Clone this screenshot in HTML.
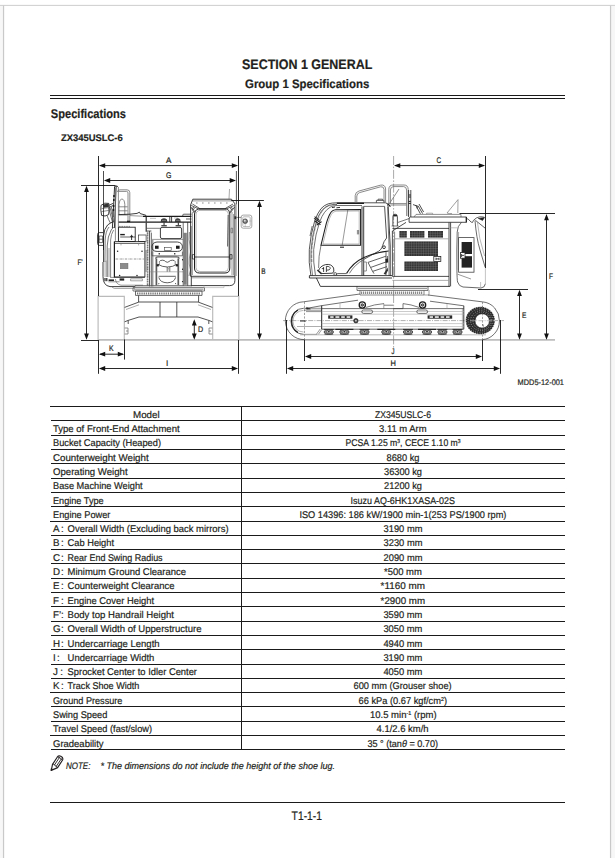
<!DOCTYPE html>
<html lang="en"><head><meta charset="utf-8"><title>SECTION 1 GENERAL - Group 1 Specifications</title>
<style>
html,body{margin:0;padding:0;background:#fff;}
svg{display:block;font-family:'Liberation Sans', 'DejaVu Sans', sans-serif;}
text{white-space:pre;text-rendering:geometricPrecision;}
</style></head><body>
<svg width="615" height="858" viewBox="0 0 615 858" style="font-family:'Liberation Sans', 'DejaVu Sans', sans-serif">
<rect x="0" y="0" width="615" height="858" fill="#ffffff"/>
<rect x="0" y="6" width="3" height="852" fill="#f7f7f7"/>
<rect x="611" y="6" width="4" height="852" fill="#f7f7f7"/>
<rect x="0" y="4.85" width="615" height="1.15" fill="#d3d3d3"/>
<rect x="2.95" y="5.5" width="1.2" height="853" fill="#c9c9c9"/>
<rect x="609.95" y="5.5" width="1.2" height="853" fill="#c9c9c9"/>
<text x="242.00" y="68.90" font-size="13.8" font-weight="bold" font-style="normal" fill="#231f20" stroke="#231f20" stroke-width="0.2" textLength="130.30" lengthAdjust="spacingAndGlyphs">SECTION 1 GENERAL</text>
<text x="245.00" y="87.80" font-size="12.3" font-weight="bold" font-style="normal" fill="#231f20" stroke="#231f20" stroke-width="0.2" textLength="124.30" lengthAdjust="spacingAndGlyphs">Group 1 Specifications</text>
<line x1="50" y1="95.5" x2="565" y2="95.5" stroke="#1a1a1a" stroke-width="1.0"/>
<line x1="50" y1="98.5" x2="565" y2="98.5" stroke="#1a1a1a" stroke-width="1.0"/>
<text x="50.80" y="118.10" font-size="12.6" font-weight="bold" font-style="normal" fill="#231f20" stroke="#231f20" stroke-width="0.2" textLength="75.20" lengthAdjust="spacingAndGlyphs">Specifications</text>
<text x="60.90" y="140.60" font-size="9.6" font-weight="bold" font-style="normal" fill="#231f20" stroke="#231f20" stroke-width="0.2" textLength="61.80" lengthAdjust="spacingAndGlyphs">ZX345USLC-6</text>
<g id="front" fill="none" stroke-linecap="butt">
<!-- ground + tracks (gray) -->
<g stroke="#bababa" stroke-width="1.15">
<line x1="98" y1="339.9" x2="555" y2="339.9" stroke-width="1.6" stroke="#bdbdbd"/>
<path d="M98.1,296.4 V340 M97.6,296.4 H124.3 V340"/>
<path d="M238.8,296.4 V340 M239.4,296.4 H212.7 V340"/>
</g>
<!-- undercarriage -->
<g stroke="#2a2a2a" stroke-width="0.8">
<path d="M139,302 H198 M139,317 H198 M160,302 V317 M176.8,302 V317"/>
<path d="M139,302 L124.6,307.4 M139,317 L128.2,320.4 L124.6,321.8 M128.2,320.4 V324"/>
<path d="M198,302 L212.4,307.4 M198,317 L208.8,320.4 L212.4,321.8 M208.8,320.4 V324"/>
<path d="M124.6,328 H128 V334 H124.6 M126,331 H128" stroke="#777"/>
<path d="M212.4,328 H209 V334 H212.4 M211,331 H209" stroke="#777"/>
<path d="M126,309.5 L139,304.8 M211,309.5 L198,304.8" stroke="#777" stroke-width="0.6"/>
<!-- slewing -->
<path d="M138.6,295.4 V302 M198.6,295.4 V302"/>
<path d="M135.5,291 H202 V295.4 H135.5 Z" stroke="#444"/>
<path d="M137,293.4 H200.5" stroke-dasharray="1.3 0.9" stroke-width="2" stroke="#777"/>
<path d="M133,287.6 H204.5 V291 H133 Z" stroke="#555"/>
<path d="M134,289.3 H203.5" stroke="#b0b0b0" stroke-width="1.6"/>
</g>
<!-- light gray fills on left shell -->
<g fill="#cfcfcf" stroke="none">
<path d="M104.3,262 Q105.4,260.4 107,260.6 V277 H104.3 Z"/>
<path d="M107.8,248 H110.2 V277 H107.8 Z"/>
</g>
<!-- upper body: left shell -->
<g stroke="#1c1c1c" stroke-width="0.85">
<path d="M103,262 V276.6 Q103,285.6 110,286.6 H135"/>
<path d="M103.5,250 L103.6,236 Q104,228.6 107.6,225 Q110.6,222.4 114,221.6" />
<path d="M104.9,262 L105.2,240 Q105.6,231 109,227" stroke="#444" stroke-width="0.7"/>
<path d="M107.2,277 V246 Q107.6,236 111.2,230 L113.6,227" stroke="#333" stroke-width="0.7"/>
<path d="M110.6,277 V240 Q111,234 113.6,230" stroke="#555" stroke-width="0.7"/>
<path d="M114.4,288.4 H135 M114.4,288.4 Q112.6,287.8 111.6,286.6" stroke="#666" stroke-width="0.6"/>
<!-- side lamp -->
<path d="M103,232.6 H99.4 Q97.6,232.6 97.6,234.6 V243.4 Q97.6,245.4 99.4,245.4 H103" />
<path d="M99.2,236 H102.6 V242.6 H99.2 Z M99.2,239.2 H102.6" stroke="#333" stroke-width="0.7"/>
<!-- dark handrail post (slanted) -->
<path d="M114.6,186.4 L112.4,228 M116.2,186 L114.4,228" stroke-width="0.9"/>
<path d="M113.2,196 L114.8,196 M113,200 L114.6,200 M112.8,206 L114.4,206 M112.6,210 L114.2,210" stroke-width="2"/>
<path d="M114.2,187.4 Q115.8,184.6 118,186.6" />
</g>
<!-- gray post + loop handrail -->
<g stroke="#6e6e6e" stroke-width="0.8">
<path d="M115.4,188 V240.8 M118.4,187 V240.8"/>
<path d="M117.4,192 Q117.6,189.8 120,189.8 H127 Q129.8,189.8 129.8,192.6 V221"/>
<path d="M118.4,191.4 H126.6 Q128,191.4 128,193 V221"/>
<path d="M119,215 V204.4 Q119.4,199 121.8,199 Q124.4,199 124.8,204.4 V215"/>
<path d="M118.4,206.8 H127.6 M118.4,210.8 H127.6 M118.4,215 H127.6"/>
</g>
<g stroke="#1c1c1c" stroke-width="0.85">
<path d="M127,221.4 H130.2" stroke-width="1.4"/>
<!-- left mirror -->
<path d="M101,205.4 Q100.4,210 101.6,215.4 Q105,217 108.6,214.6 Q109.8,209 108.8,203.4 Q104.6,202 101,205.4 Z"/>
<path d="M103,204.4 L108.6,203.6 L108.8,207 L104,207.8 Z" fill="#333" stroke="none"/>
<path d="M101.6,208.6 L108.8,207.6 M101.4,211.6 L108.8,210.4" stroke="#444" stroke-width="0.6"/>
<path d="M108.8,205.4 L113,203.4 M108.8,207.4 L113,205.6" stroke-width="0.8"/>
<!-- hoses -->
<path d="M108.6,208 Q110.6,215 112.4,222 M110,207.4 Q112,215 113.6,221.6 M107,215.4 Q108.6,220 110.6,223.4 M111.4,207 Q112.6,213 113.4,217" stroke="#333" stroke-width="0.7"/>
<!-- deck left -->
<path d="M118.6,214.6 L130,214.2 L137,213.4 L139.4,212.2 L140.2,213.6 L145.8,215.2 V216.4"/>
<path d="M130,215.6 L145.8,216.4" stroke="#555" stroke-width="0.6"/>
<path d="M118.6,222.1 H145.8" stroke-width="1.3"/>
<path d="M119,226.4 H130" stroke-dasharray="1.6 0.8" stroke="#555" stroke-width="0.6"/>
<!-- top deck boxes -->
<path d="M143,216.4 H191.4" stroke-width="1.2"/>
<path d="M146.6,222.1 H191.4" stroke-width="1.2"/>
<path d="M146.2,216.4 V231.8" stroke-width="1.1"/>
<path d="M169.8,216.4 V222.1 M171.6,216.4 V222.1" />
<path d="M150,218.4 H156 M174,218 H178" stroke="#999" stroke-width="0.6"/>
<path d="M146.6,228.3 H160.4" stroke="#444" stroke-width="0.7"/>
<path d="M162,227.4 H180 Q181.6,227.4 181.6,229 V237 Q181.6,238.6 180,238.6 H162 Q160.4,238.6 160.4,237 V229 Q160.4,227.4 162,227.4 Z"/>
<path d="M152,239.4 H183.2" stroke="#555" stroke-width="0.6"/>
</g>
<!-- filler caps -->
<g fill="#3a3a3a" stroke="none">
<path d="M160.6,222 L161.2,219.2 Q164,217.4 166.8,219.2 L167.4,222 Z"/>
<path d="M174.8,222 L175.4,219.2 Q177.8,217.4 180.2,219.2 L180.8,222 Z"/>
<rect x="161.3" y="225.1" width="5.5" height="1.3"/>
<rect x="175.6" y="225.1" width="5.5" height="1.3"/>
<rect x="163.5" y="222" width="1.1" height="3.4"/>
<rect x="177.8" y="222" width="1.1" height="3.4"/>
</g>
<g stroke="#ddd" stroke-width="0.4"><path d="M162,220.4 H166 M176.2,220.4 H179.8"/></g>
<g stroke="#1c1c1c" stroke-width="0.85">
<!-- left upper box group -->
<rect x="118.6" y="227.2" width="16.6" height="14.3"/>
<path d="M120.2,237 H135.2" stroke-width="0.7"/>
<path d="M120.2,234.6 H124.8" stroke-width="1.4"/>
<path d="M131.6,234.8 V240 M130.2,236.4 H133" stroke-width="0.9"/>
<rect x="138.5" y="235" width="7.6" height="6.5" stroke="#333" stroke-width="0.7"/>
<!-- radiator box -->
<path d="M114.4,241.6 V277.2 H144.9" stroke-width="1.2"/>
<path d="M114.4,241.6 H144.9 V277.2"/>
<path d="M114.4,243.4 H144.9" stroke-width="0.7"/>
<path d="M121,243.4 V245.4 M138.6,243.4 V245.4" stroke="#777" stroke-width="0.6"/>
<path d="M115.6,259 H144" stroke-dasharray="2.4 0.8 0.6 0.8" stroke="#555" stroke-width="0.6"/>
<path d="M145.9,250 V272" stroke="#8c8c8c" stroke-width="1.4"/>
</g>
<rect x="120.2" y="263.2" width="7.8" height="5.6" fill="#8c8c8c" stroke="#666" stroke-width="0.4"/>
<g fill="#222" stroke="none">
<circle cx="117.6" cy="251.2" r="0.75"/><circle cx="142" cy="251.2" r="0.75"/>
<circle cx="119.6" cy="275.4" r="0.75"/><circle cx="137" cy="275.4" r="0.75"/>
<rect x="104.4" y="278" width="1.2" height="3.2"/><rect x="106.2" y="278" width="1.2" height="3.2"/>
<rect x="108.6" y="279.4" width="5.4" height="1.6"/>
<rect x="119.6" y="278.4" width="4.6" height="2.2"/>
</g>
<g stroke="#1c1c1c" stroke-width="0.8">
<path d="M110,277.4 H114.4 M108.4,281.8 H119.6" stroke="#444" stroke-width="0.6"/>
<path d="M130.6,278.8 H142.4 V280.8 H130.6 Z" stroke="#666" stroke-width="0.6"/>
<path d="M115.4,279 Q116,284.4 121,285.2 H143" stroke="#555" stroke-width="0.6"/>
<!-- pillar left of seat -->
<path d="M149.6,231 V286.4" />
<path d="M151.4,232.6 V286.4 M152.8,240 V286.4" stroke="#333" stroke-width="0.7"/>
<path d="M146.6,231 H151.4" stroke-width="0.7"/>
<path d="M147.6,231.4 V286" stroke="#777" stroke-width="1.6" stroke-dasharray="1.3 0.4"/>
<!-- console -->
<path d="M157,242 H177.4 Q182.4,242.6 182.4,246.8 Q182.4,251.4 177.4,251.4 H157 Q152,251.4 152,246.8 Q152,242.6 157,242 Z"/>
<rect x="164.5" y="247.5" width="6.7" height="3.1" stroke="#444" stroke-width="0.6"/>
<path d="M152,251.6 V255.8 H182.4 V251.6" stroke="#444" stroke-width="0.7"/>

</g>
<g fill="#1a1a1a" stroke="none">
<rect x="155" y="245.7" width="3.6" height="3.1"/><rect x="176" y="245.7" width="3.6" height="3.1"/>
<rect x="158.6" y="253.2" width="1.4" height="1.2"/><rect x="174" y="253.2" width="1.4" height="1.2"/>
<circle cx="182.6" cy="259.8" r="0.7"/><circle cx="182.6" cy="269.2" r="0.7"/><circle cx="182.6" cy="281.6" r="0.7"/>
</g>
<g stroke="#5c5c5c" stroke-width="1.7">
<path d="M156.4,258.6 V285.2 M178.3,258.6 V285.2"/>
<path d="M155.6,258.6 Q155.8,256.8 158,256.8 H176.8 Q179,256.8 179.2,258.6" fill="none" stroke-width="1.3"/>
</g>
<g stroke="#1c1c1c" stroke-width="0.8">
<!-- seat -->
<path d="M159.4,261.6 Q160,260.2 162.4,260.2 Q164.6,260.2 165.6,261.6 Q167.2,263 169,261.6 Q170,260.2 172.4,260.2 Q174.6,260.2 175.2,261.6" stroke-width="0.7"/>
<path d="M157.8,264.2 Q162,267 167.4,267 Q173,267 177,264.2" stroke-width="0.7"/>
<path d="M159.4,261.6 V264.8 M175.2,261.6 V264.8" stroke-width="0.6" stroke="#444"/>
<rect x="156.6" y="264.2" width="2.2" height="2.2" fill="#222" stroke="none"/>
<rect x="175.8" y="264.2" width="2.2" height="2.2" fill="#222" stroke="none"/>
<path d="M167.2,267 V271.8 M169.8,267 V271.8" stroke-width="0.7" stroke="#333"/>
<path d="M168.5,268 V271" stroke="#555" stroke-width="0.6" stroke-dasharray="0.8 0.7"/>
<path d="M150.2,271.8 H185" stroke="#888" stroke-width="0.6"/>
<path d="M158.6,276.3 H175.8" stroke-width="0.7"/>
<path d="M158.8,277.4 Q160,282.6 167.2,282.8 Q174.4,282.6 175.6,277.4" stroke-width="0.7"/>
<path d="M158.6,284.2 L159,283 M175.4,283 L175.8,284.2" stroke-width="0.7"/>
<!-- right pillar -->
<path d="M183.2,222.1 V286" stroke-width="0.7" stroke="#333"/>
<path d="M184.6,232.8 V284.8" stroke="#808080" stroke-width="2.9"/>
<path d="M186.6,232.8 V284.8" stroke="#444" stroke-width="0.6"/>
<path d="M187.7,222.1 V286" stroke-width="0.7"/>
<path d="M189.4,232 Q188.6,240 190,246 Q191,252 189.4,258 Q188.6,264 190.4,270 L189,276" stroke="#444" stroke-width="0.6"/>
<path d="M191.2,226 V276.3" stroke="#444" stroke-width="0.6"/>
<!-- boom foot box -->
<path d="M182.8,216.4 V214.8 Q183,214.2 184,214.2 H191.6 M186,219 H191.4" stroke-width="0.7"/>
<!-- body bottom -->
<path d="M135,286.6 V285.8 H192" stroke-width="1" stroke="#555"/>
</g>
<!-- CAB -->
<g stroke="#1c1c1c" stroke-width="0.85">
<path d="M192.8,199.2 H231.5 L234.9,203.8 V276.3 H190.6 V205 Z"/>
<path d="M192.2,200.9 H232.6" stroke="#555" stroke-width="0.6"/>
<path d="M196,203 H232" stroke-dasharray="1.6 4.4" stroke="#444" stroke-width="0.6"/>
<path d="M194.5,214 V268 Q194.5,273 199.5,273 H225 Q229.8,273 229.8,268 V214" stroke-width="1"/>
<path d="M194.5,214 Q194.6,209.6 198.5,208.9 M229.8,214 Q229.7,209.6 226.4,208.9" stroke-width="0.9"/>
<path d="M198.5,208.9 H226.4" stroke-width="1.5"/>
<path d="M196,215 V267.6 Q196,271.6 200,271.6 H224.6 Q228.4,271.6 228.4,267.6 V215 Q228.4,210.6 224.6,210.4 H200 Q196,210.6 196,215 Z" stroke="#666" stroke-width="0.5"/>
<path d="M191.2,205.4 L198.5,208.9 M192.4,204 L199.6,208.4 M191,207 L194.5,213.6 M192.6,208.6 L195,212" stroke-width="0.7"/>
<path d="M234.4,205.4 L226.4,208.9 M233,204 L225.4,208.4 M234.6,207 L229.8,213.6 M232.4,208.6 L230,212" stroke-width="0.7"/>
<circle cx="193.4" cy="208.4" r="0.9" stroke-width="0.6"/><circle cx="231.4" cy="208.4" r="0.9" stroke-width="0.6"/>
<path d="M192.4,212 V275 M232,212 V275 M233.6,214 V275" stroke="#555" stroke-width="0.6"/>
<path d="M194.5,257 H229.8" stroke-width="0.8"/>
<path d="M192.4,254.6 H194.5 V259 H192.4 Z M229.8,254.6 H232 V259 H229.8 Z" stroke-width="0.7"/>
<path d="M231,228.2 H232.6 V232.8 H231 Z" stroke="#555" stroke-width="0.6"/>
<path d="M228.2,215 L227.6,246.4" stroke="#666" stroke-width="1.1"/>
<path d="M229.5,189 L229,199.2" stroke="#555" stroke-width="0.5"/>
<path d="M236.2,205 V276" stroke="#777" stroke-width="0.7"/>
<rect x="234.4" y="216.3" width="1.8" height="2.8" fill="#333" stroke="none"/>
<!-- cab base -->
<path d="M191.3,276.3 V285.6 H229.6 Q234.9,285.6 234.9,280.4 V276.3"/>
<path d="M191.3,277.8 H234.9" stroke="#555" stroke-width="0.6"/>
<path d="M204,285.6 V287.6 H224 V285.6" stroke="#aaa" stroke-width="0.6"/>
</g>
<!-- right mirror -->
<g stroke="#8a8a8a" stroke-width="0.75">
<rect x="241.2" y="215.1" width="10.6" height="13.1" rx="2"/>
<rect x="242.8" y="216.8" width="7.4" height="9.8" rx="1" stroke="#a4a4a4"/>
<path d="M236.2,217.4 H241.2" stroke="#444" stroke-width="0.6"/>
<path d="M249,221 H251.6 M245.2,224 V227" stroke="#999" stroke-width="0.5"/>
</g>
<circle cx="245.2" cy="221.2" r="2.3" fill="#7c7c7c" stroke="#333" stroke-width="0.7"/>
<circle cx="244.8" cy="220.8" r="1" fill="#d8d8d8"/>
<!-- dimension lines -->
<g stroke="#111" stroke-width="0.9">
<path d="M98.5,156 V296 M98.5,340 V373.8 M238.5,156 V296 M238.5,340 V373.8"/>
<path d="M103.5,171 V262" stroke-width="0.75"/><path d="M236.4,171 V204.6" stroke-width="0.7"/>
<path d="M100,165.6 H237 M105,180.5 H235"/>
<path d="M81,185.5 H115.5 M86.5,187 V338.4 M81,340.5 H98.5"/>
<path d="M231.2,200.5 H263.9 M259.5,202 V338.4"/>
<path d="M124.5,339.4 V359.6 M100,354.2 H123 M100,368.5 H237 M194.3,321 V338"/>
</g>
<g fill="#111" stroke="none">
<path d="M98.9,165.6 l6.3,-2.4 v4.8 Z M238.1,165.6 l-6.3,-2.4 v4.8 Z"/>
<path d="M103.9,180.5 l6.3,-2.4 v4.8 Z M236,180.5 l-6.3,-2.4 v4.8 Z"/>
<path d="M86.5,185.7 l-2.4,6.3 h4.8 Z M86.5,339.7 l-2.4,-6.3 h4.8 Z"/>
<path d="M259.5,200.7 l-2.4,6.3 h4.8 Z M259.5,339.7 l-2.4,-6.3 h4.8 Z"/>
<path d="M98.9,354.2 l6.3,-2.4 v4.8 Z M124.1,354.2 l-6.3,-2.4 v4.8 Z"/>
<path d="M98.9,368.5 l6.3,-2.4 v4.8 Z M238.1,368.5 l-6.3,-2.4 v4.8 Z"/>
<path d="M194.3,319.3 l-2.4,6.3 h4.8 Z M194.3,339.7 l-2.4,-6.3 h4.8 Z"/>
</g>
<g fill="#231f20" stroke="#231f20" stroke-width="0.2" font-size="8.1">
<text x="166" y="162.6" textLength="5.4" lengthAdjust="spacingAndGlyphs">A</text>
<text x="166" y="178" textLength="5.4" lengthAdjust="spacingAndGlyphs">G</text>
<text x="77.4" y="265" textLength="5.4" lengthAdjust="spacingAndGlyphs">F&#8217;</text>
<text x="261.2" y="274" textLength="4.3" lengthAdjust="spacingAndGlyphs">B</text>
<text x="109" y="350.6" textLength="4.6" lengthAdjust="spacingAndGlyphs">K</text>
<text x="166" y="365.6">I</text>
<text x="198" y="332" textLength="5.2" lengthAdjust="spacingAndGlyphs">D</text>
</g>
</g>

<g id="side" fill="none">
<!-- centre lines -->
<g stroke="#555" stroke-width="0.5">
<path d="M393.6,156 V349" stroke-dasharray="9 1.6 1.6 1.6"/>
<path d="M304.5,302 V340 M482.5,302 V340" stroke-dasharray="2.2 1.4" stroke="#444"/>
<path d="M283,320.6 H504" stroke="#9a9a9a" stroke-dasharray="5 1.2 1 1.2" stroke-width="0.8"/>
</g>
<!-- TRACK -->
<g stroke="#2e2e2e" stroke-width="0.7">
<path d="M304.6,339.6 A18.7,18.9 0 0 1 303.5,301.8 L360,294 M428,295 L482.7,301.9 A18.2,18.9 0 0 1 482.4,339.6" stroke="#333"/>
<path d="M304.6,339.6 H482.4" stroke="#888" stroke-width="0.6"/>
<path d="M305.5,308.6 L322,305.6 L358,300.2 M430,301.2 L463.8,305.8" stroke="#333"/>
<!-- idler -->
<path d="M303.5,334.3 A12.6,13 0 0 1 303.5,308.3" stroke="#333" stroke-width="0.7"/>
<path d="M298,332.6 A12.6,13 0 0 1 298,310" stroke="#222" stroke-width="1.3"/>
<path d="M303.5,332 A10.6,10.8 0 0 1 303.5,310.4" stroke="#888" stroke-width="0.6"/>
<path d="M303.5,308.3 H321.7 M304,310.2 H321.7 M306,311.6 H321.7" stroke="#444" stroke-width="0.6"/>
<path d="M306.6,307.4 L310.4,309 L306.6,309.2 Z" fill="#222" stroke-width="0.6"/>
<path d="M300,321 H306" stroke="#222" stroke-width="0.9"/>
<path d="M297,326.5 H321.7 M303.5,334.3 H317" stroke="#777" stroke-width="0.6"/>
<path d="M316.4,334.3 L320.2,329 M318.4,334.3 L321.7,329.6" stroke="#555" stroke-width="0.6"/>
<!-- frame -->
<path d="M321.7,305.7 V329.2" stroke="#222" stroke-width="1"/>
<path d="M463.8,305.8 V329.2" stroke="#222" stroke-width="0.9"/>
<path d="M462.4,308.6 V329" stroke="#888" stroke-width="0.6"/>
<path d="M321.7,308.6 H463.8" stroke="#333" stroke-width="0.7"/>
<path d="M321.7,329.2 H463.8" stroke="#333" stroke-width="0.8"/>
<path d="M321.7,311.5 H463.8 M321.7,314.2 H463.8 M321.7,323.6 H463.8 M321.7,326.6 H463.8" stroke="#a8a8a8" stroke-width="0.6"/>
<path d="M340,308.6 V303.2 M447,308.6 V304" stroke="#999" stroke-width="0.6"/>
<path d="M384,303.6 Q374,304.4 366,307.4 M384,305.2 H393 M403,303.6 Q411,304.4 419,307.4 M393.6,308.6 H403 V303.6" stroke="#444" stroke-width="0.7"/>
<path d="M383.8,303.6 V308.6" stroke="#666" stroke-width="0.6"/>
</g>
<!-- track small parts -->
<g stroke="#1c1c1c" stroke-width="0.7">
<circle cx="362.3" cy="305" r="3.1" stroke-width="1.3"/>
<circle cx="362.3" cy="305" r="1.3" fill="#888"/>
<rect x="361.8" y="310" width="10.8" height="3.4" rx="1.7" stroke="#333"/>
<circle cx="422.6" cy="305" r="3.1" stroke-width="1.3"/>
<circle cx="422.6" cy="305" r="1.3" fill="#888"/>
<rect x="416.8" y="310" width="10.8" height="3.4" rx="1.7" stroke="#333"/>
<circle cx="355.9" cy="320.7" r="2.2" fill="#444"/>
<circle cx="355.9" cy="320.7" r="0.9" fill="#ccc" stroke="none"/>
</g>
<g fill="#2a2a2a" stroke="none">
<rect x="328.2" y="315.4" width="24.2" height="3.3"/>
<rect x="427.6" y="315.4" width="24.6" height="3.3"/>
</g>
<g fill="#fff" stroke="none">
<rect x="330.2" y="316.3" width="3.4" height="1.5"/><rect x="335.4" y="316.3" width="4" height="1.5"/><rect x="341.2" y="316.3" width="3.6" height="1.5"/><rect x="346.6" y="316.3" width="3.6" height="1.5"/>
<rect x="429.6" y="316.3" width="3.4" height="1.5"/><rect x="434.8" y="316.3" width="4" height="1.5"/><rect x="440.6" y="316.3" width="3.6" height="1.5"/><rect x="446" y="316.3" width="3.6" height="1.5"/>
</g>
<!-- rollers -->
<path d="M300,334.8 H486" stroke="#8c8c8c" stroke-width="0.6"/>
<g stroke="#222" stroke-width="0.7">
<g transform="translate(328.8,331.6)"><path d="M-5,-2.2 H5" stroke-width="0.9"/><ellipse cx="0" cy="0.4" rx="4.6" ry="2.5" fill="#8a8a8a"/><ellipse cx="0" cy="0.2" rx="2.4" ry="1.5" fill="#e0e0e0" stroke-width="0.5"/><ellipse cx="0" cy="0.2" rx="1.1" ry="0.8" fill="#222" stroke="none"/><path d="M-4.4,2.8 H4.4" stroke="#444" stroke-width="0.6"/></g>
<g transform="translate(344.4,331.6)"><path d="M-9,-2.2 H9" stroke-width="1.2"/><ellipse cx="0" cy="0.4" rx="4.6" ry="2.5" fill="#8a8a8a"/><ellipse cx="0" cy="0.2" rx="2.4" ry="1.5" fill="#e0e0e0" stroke-width="0.5"/><ellipse cx="0" cy="0.2" rx="1.1" ry="0.8" fill="#222" stroke="none"/><path d="M-4.4,2.8 H4.4" stroke="#444" stroke-width="0.6"/></g>
<g transform="translate(364.5,331.6)"><path d="M-5,-2.2 H5" stroke-width="0.9"/><ellipse cx="0" cy="0.4" rx="4.6" ry="2.5" fill="#8a8a8a"/><ellipse cx="0" cy="0.2" rx="2.4" ry="1.5" fill="#e0e0e0" stroke-width="0.5"/><ellipse cx="0" cy="0.2" rx="1.1" ry="0.8" fill="#222" stroke="none"/><path d="M-4.4,2.8 H4.4" stroke="#444" stroke-width="0.6"/></g>
<g transform="translate(386.3,331.6)"><path d="M-9,-2.2 H9" stroke-width="1.2"/><ellipse cx="0" cy="0.4" rx="4.6" ry="2.5" fill="#8a8a8a"/><ellipse cx="0" cy="0.2" rx="2.4" ry="1.5" fill="#e0e0e0" stroke-width="0.5"/><ellipse cx="0" cy="0.2" rx="1.1" ry="0.8" fill="#222" stroke="none"/><path d="M-4.4,2.8 H4.4" stroke="#444" stroke-width="0.6"/></g>
<g transform="translate(408.0,331.6)"><path d="M-5,-2.2 H5" stroke-width="0.9"/><ellipse cx="0" cy="0.4" rx="4.6" ry="2.5" fill="#8a8a8a"/><ellipse cx="0" cy="0.2" rx="2.4" ry="1.5" fill="#e0e0e0" stroke-width="0.5"/><ellipse cx="0" cy="0.2" rx="1.1" ry="0.8" fill="#222" stroke="none"/><path d="M-4.4,2.8 H4.4" stroke="#444" stroke-width="0.6"/></g>
<g transform="translate(427.0,331.6)"><path d="M-9,-2.2 H9" stroke-width="1.2"/><ellipse cx="0" cy="0.4" rx="4.6" ry="2.5" fill="#8a8a8a"/><ellipse cx="0" cy="0.2" rx="2.4" ry="1.5" fill="#e0e0e0" stroke-width="0.5"/><ellipse cx="0" cy="0.2" rx="1.1" ry="0.8" fill="#222" stroke="none"/><path d="M-4.4,2.8 H4.4" stroke="#444" stroke-width="0.6"/></g>
<g transform="translate(442.4,331.6)"><path d="M-5,-2.2 H5" stroke-width="0.9"/><ellipse cx="0" cy="0.4" rx="4.6" ry="2.5" fill="#8a8a8a"/><ellipse cx="0" cy="0.2" rx="2.4" ry="1.5" fill="#e0e0e0" stroke-width="0.5"/><ellipse cx="0" cy="0.2" rx="1.1" ry="0.8" fill="#222" stroke="none"/><path d="M-4.4,2.8 H4.4" stroke="#444" stroke-width="0.6"/></g>
<g transform="translate(457.5,331.6)"><path d="M-5,-2.2 H5" stroke-width="0.9"/><ellipse cx="0" cy="0.4" rx="4.6" ry="2.5" fill="#8a8a8a"/><ellipse cx="0" cy="0.2" rx="2.4" ry="1.5" fill="#e0e0e0" stroke-width="0.5"/><ellipse cx="0" cy="0.2" rx="1.1" ry="0.8" fill="#222" stroke="none"/><path d="M-4.4,2.8 H4.4" stroke="#444" stroke-width="0.6"/></g>
</g>
<!-- sprocket -->
<ellipse cx="480.3" cy="320.5" rx="14.6" ry="13.8" fill="#2c2c2c"/>
<g stroke="#fff" fill="none">
<ellipse cx="480.3" cy="320.5" rx="14.4" ry="13.6" stroke-width="1.1" stroke-dasharray="0.9 1.5" opacity="0.85"/>
<ellipse cx="480.6" cy="320.6" rx="12.4" ry="11.8" stroke-width="0.8" stroke-dasharray="0.7 1.7" opacity="0.7"/>
<ellipse cx="481" cy="320.7" rx="10.4" ry="10" stroke-width="0.8" stroke-dasharray="0.8 1.5" opacity="0.7"/>
<ellipse cx="481.6" cy="320.8" rx="8.6" ry="8.6" stroke-width="0.7" stroke-dasharray="0.7 1.3" opacity="0.7"/>
</g>
<circle cx="482.2" cy="320.9" r="7.2" fill="#fff" stroke="#222" stroke-width="0.6"/>
<path d="M482.7,324 L483.6,326.6 M474.6,317.6 L476,319.4" stroke="#333" stroke-width="0.6"/>
<path d="M482.5,306 V335" stroke="#444" stroke-width="0.5" stroke-dasharray="2.2 1.4"/>
<path d="M470,320.7 H496" stroke="#aaa" stroke-width="0.7" stroke-dasharray="5 1.2 1 1.2"/>
<!-- swing base -->
<g stroke="#333" stroke-width="0.7">
<path d="M357,286.4 V290.4 H428 V286.4"/>
<path d="M360,290.4 V295 H424 V290.4" stroke="#555"/>
<path d="M361,292.8 H423" stroke="#8a8a8a" stroke-width="2.4" stroke-dasharray="1.2 0.8"/>
<path d="M358,288.4 H427" stroke="#999" stroke-width="1.4"/>
<path d="M424,295 H429 L429,290" stroke="#777"/>
</g>
<!-- CAB -->
<g stroke="#1c1c1c" stroke-width="0.85">
<path d="M310.9,275.6 Q308.4,262 309.3,249.6 Q310.6,234 314.6,221.3 Q317.4,213 321,208.7 Q324,205.2 328.3,203.8 Q332,202.8 337,202.8 H386.4" stroke-width="0.75"/>
<path d="M311.7,262 Q311.2,254 312,246 Q313.4,232 317,221.6 Q319.6,214 322.8,210 Q325.6,206.8 329.4,205.4 Q332.6,204.4 337,204.3" stroke="#555" stroke-width="1.5" stroke-dasharray="0.5 0.8"/>
<path d="M312.6,275.6 Q310.2,262 311,250 Q312.2,234.6 316.2,222 Q318.8,214 322.2,210 Q325,206.8 329,205.4 Q332.4,204.4 337,204.4" stroke="#333" stroke-width="0.6"/>
<path d="M315.4,275 Q313,262 313.7,249.6 Q315.4,234 319.5,222.3 Q322,215.6 324.4,212.6 Q327,209 330.2,207.2 Q333,205.6 337,205.5 H362" stroke="#333" stroke-width="0.7"/>
<path d="M337,203.3 H364" stroke-width="1.4"/>
<path d="M332,207.6 L335,207 M336.4,207.8 L340,207.4" stroke-width="0.9"/>
<!-- window -->
<path d="M321,245.2 L326.3,223.3 Q328.4,216.6 330.2,213.5 Q332,210 335.6,209.7 L360.6,209.6 V245.2 Z" stroke-width="1.05"/>
<path d="M322.9,244 L327.8,223.8 Q329.6,217.4 331.4,214.4 Q333,211.4 336,211.2 L359.2,211 V244 Z" stroke="#777" stroke-width="0.5"/>
<path d="M347.8,210 L342.2,245" stroke-width="0.5" stroke="#333"/>
<path d="M340,247.2 H344" stroke-width="1"/>
<path d="M357.4,230 V234.4 M358.6,230 V234.4" stroke="#555" stroke-width="0.7"/>
<path d="M321,245.2 Q318.4,256 318.6,268" stroke="#444" stroke-width="0.7"/>
<!-- B pillar -->
<path d="M362,206.4 V275.6 M363.7,206.4 V275.6"/>
<!-- rear -->
<path d="M386.4,203 Q388,204 388.2,207 L390.2,246 V276"/>
<path d="M384.6,206.4 L386.6,238 Q383.6,241.4 382.6,245.6 Q381.6,250.4 376,252.6 L363.7,259.4" stroke="#333"/>
<path d="M363.7,206.4 H384.6" stroke="#555"/>
<path d="M387.6,207 L389,246 V276" stroke="#666"/>
<path d="M346.6,273.4 Q353,262.6 364,257.6 Q375,252.4 388.6,251" stroke-width="1.1" stroke="#222"/>
<path d="M349.4,273.4 Q355,264 364,259.6" stroke="#666"/>
<path d="M368,262.4 L386,256.2 M370.8,267.4 L387,261.6 M372.6,271.4 L387,266.6 M368,262.4 L372.6,271.4 L374,273.6" stroke="#444"/>
<path d="M364,262 H366.4 V271 H364" stroke="#777"/>
<path d="M386,252 V275 M387.4,256 V262" stroke="#444"/>
<circle cx="384" cy="247.2" r="1.4"/>
<path d="M385.4,259 L388,258.4 L388.2,262.6 L385.6,262.8 Z" fill="#222" stroke="none"/>
<path d="M383.6,274 L387.6,267.6 L388,270.6 L385.6,274.6 Z" fill="#333" stroke="none"/>
<!-- floor -->
<path d="M309.4,275.6 H392 M309.4,275.6 V278 H392"/>
<path d="M316.4,278 L320.4,286.4 H450"/>
<path d="M336,275.4 L337.4,273.6 H346.6" stroke="#444"/>
<!-- wiper motor -->
<path d="M318.6,270.6 Q320,266 325.6,264.6 Q331.4,263.6 333.6,268 Q334.6,271.6 332.6,273.2 L321,273.6 Z"/>
<path d="M323.6,267 V272 M326.4,266.4 V272 M326.4,266.4 Q330.4,266.2 330.2,268.6 Q330,270.4 326.4,270.2 M321.8,268.6 H324" stroke-width="0.8"/>
<path d="M317.4,270 L321.6,273.8" stroke-width="1.6" stroke="#333"/>
<circle cx="335.2" cy="274" r="1.4" stroke="#444"/>
<!-- wiper on front -->
<path d="M314.6,216.6 L319.6,220.6 M314,218.4 L320.4,222.6 M314.6,220.8 L319,224 M316.6,222.6 L320.6,224.4 M317,225 L321.6,221.6" stroke-width="1.1" stroke="#222"/>
<path d="M312.2,226 L310,236" stroke="#555"/>
<!-- roof lamp -->
<path d="M376.4,202.8 V200.4 H384 V202.8 M378,200.4 V199.2 H382.6 V200.4" stroke="#444"/>
<path d="M389,204.2 L399,189" stroke-width="0.5"/>
<path d="M387.6,203.4 L390.4,206.6" stroke-width="1.2"/>
</g>
<!-- handrails -->
<g stroke="#6c6c6c" stroke-width="0.8">
<path d="M355.2,203 V195.6 Q355.4,192 359,191 L380.4,185.2 Q385.2,184.2 385.6,189 V202"/>
<path d="M356.8,203 V196 Q357,193.4 359.6,192.6 L380.6,186.8 Q383.8,186.2 384,189.4 V202"/>
<path d="M388.8,204 V189.4 Q389,185 393,185 H404 Q408,185 408.2,189.4 V216"/>
<path d="M390.4,204 V190 Q390.6,186.6 393.4,186.6 H403.6 Q406.4,186.6 406.6,190 V216"/>
<path d="M390.4,203.6 H406.6 M390.4,205 H406.6"/>
</g>
<g stroke="#222" stroke-width="0.8">
<path d="M408.6,190 V217 M410.8,190 V217"/>
<path d="M408.6,195 H410.8 M408.6,197 H410.8 M408.6,201.4 H410.8 M408.6,203.4 H410.8" stroke-width="1"/>
<!-- stuff between cab and engine -->
<path d="M392.9,226 V216.4 Q393,214.2 395.1,214.2 Q397.2,214.2 397.4,216.4 V226" />
<path d="M393.4,215.6 H397" stroke-width="1.6"/>
<path d="M391.6,226 H398.6" stroke="#444" stroke-width="0.7"/>
<path d="M398,222.4 L409.6,218.4" stroke="#555"/>
<!-- hood -->
<path d="M410.6,217 H466.5 V222.3 H409.1 V218.6 Q409.1,217 410.6,217 Z"/>
<path d="M466.3,217 V222.3" stroke-width="1.3"/>
<path d="M414,217 L416,214.4 H461 V217" stroke="#444" stroke-width="0.6"/>
<path d="M426.6,214.4 V213.2 H432.6 V214.4" stroke="#777" stroke-width="0.6"/>
<path d="M413,204.6 L418.4,206.4 L422.6,213.6 M415.6,205 L420.4,213.8 M418.4,206.4 L416.4,208 M419,204 L423.6,212" stroke="#222" stroke-width="0.8"/>
<path d="M447,213 L458,199.6 L457.8,213 M447,213 Q449,213.8 452,213.6" stroke="#777" stroke-width="0.7"/>
<!-- engine body -->
<path d="M392.4,231 L406,222.4 M392.4,231 V276.4"/>
<path d="M394.6,231.6 V276.4" stroke="#666"/>
<path d="M392.4,228.4 H449 M449,222.4 V286.4 M450.6,222.4 V286.4"/>
<path d="M392.4,276.4 H449" />
<path d="M394,238.8 H449" stroke="#999"/>
<path d="M392.4,280.4 H449" stroke="#999"/>
<!-- counterweight -->
<path d="M467,218.6 Q469,219.4 470,221 Q471,222.6 472.6,222.4 L473.4,220.4 Q476,217.4 479.6,216.8 Q483,216.6 484.6,217.4" stroke-width="0.7"/>
<path d="M478.3,218.4 L484.4,217.6 L482.6,220.4 Z" fill="#222" stroke-width="0.6"/>
<path d="M475.5,220.4 L485.2,228.2" stroke-width="0.7"/>
<path d="M461.4,222.4 Q457.4,226 457.2,232 Q456.6,250 456.9,268 Q457,280 457.6,282 Q459,286.4 463,287 L481,288 Q485,287.6 485.4,283.6" stroke="#2a2a2a" stroke-width="0.7"/>
<path d="M458.6,232 Q458,250 458.3,270" stroke="#777" stroke-width="0.6"/>
<path d="M475,220.4 Q476.4,238 480,250 L485.2,267.4" stroke="#2a2a2a" stroke-width="0.7"/>
<path d="M477.4,222 Q478.6,238 484.6,256" stroke="#888" stroke-width="0.6"/>
<path d="M457.6,274.2 L471,279" stroke="#555" stroke-width="0.6"/>
<path d="M485.4,268 V283.6" stroke="#aaa" stroke-width="0.7"/>
<path d="M480.6,282 V287.6" stroke="#aaa" stroke-width="0.7"/>
<path d="M450.6,227.8 H457.4" stroke="#aaa" stroke-width="0.7"/>
<rect x="458.6" y="237.6" width="15.4" height="34.6" stroke="#444"/>
</g>
<!-- grilles -->
<g fill="#333" stroke="none">
<rect x="399.4" y="231" width="7.4" height="6.6"/>
<rect x="410" y="231" width="14.4" height="6.6"/>
<rect x="428" y="231" width="15" height="6.6"/>
<rect x="404.4" y="241.4" width="33.6" height="14.6"/>
<path d="M404.4,261.6 H433.6 V261.8 H438 V271 H404.4 Z"/>
<rect x="461.6" y="242" width="10.4" height="12" fill="#222"/>
<rect x="461.6" y="256.2" width="10.4" height="11.4" fill="#222"/>
</g>
<g stroke="#fff" stroke-width="0.35" opacity="0.4">
<path d="M406.8,241.4 V256 M409.2,241.4 V256 M411.6,241.4 V256 M414,241.4 V256 M416.4,241.4 V256 M418.8,241.4 V256 M421.2,241.4 V256 M423.6,241.4 V256 M426,241.4 V256 M428.4,241.4 V256 M430.8,241.4 V256 M433.2,241.4 V256 M435.6,241.4 V256"/>
<path d="M404.4,243.8 H438 M404.4,246.2 H438 M404.4,248.6 H438 M404.4,251 H438 M404.4,253.4 H438"/>
<path d="M406.8,261.6 V271 M409.2,261.6 V271 M411.6,261.6 V271 M414,261.6 V271 M416.4,261.6 V271 M418.8,261.6 V271 M421.2,261.6 V271 M423.6,261.6 V271 M426,261.6 V271 M428.4,261.6 V271 M430.8,261.6 V271 M433.2,261.6 V271 M435.6,261.6 V271"/>
<path d="M404.4,264 H438 M404.4,266.4 H438 M404.4,268.8 H438"/>
<path d="M401.8,231 V237.6 M404.2,231 V237.6 M412.4,231 V237.6 M414.8,231 V237.6 M417.2,231 V237.6 M419.6,231 V237.6 M422,231 V237.6 M430.4,231 V237.6 M432.8,231 V237.6 M435.2,231 V237.6 M437.6,231 V237.6 M440,231 V237.6"/>
<path d="M399.4,233.2 H443 M399.4,235.4 H443"/>
</g>
<g stroke="#222" stroke-width="0.8" fill="#fff">
<rect x="433.8" y="256.4" width="7" height="5"/>
<path d="M436,257.6 V260.2 M436,258.9 H439 M439,257.6 V260.2" fill="none"/>
<rect x="460.4" y="252.6" width="4.6" height="5.6"/>
<path d="M461.6,254 V257 M461.6,255.4 H464" fill="none"/>
</g>
<!-- dimension lines -->
<g stroke="#111" stroke-width="0.9">
<path d="M485.5,156 V268"/>
<path d="M395,165.6 H484"/>
<path d="M459.5,213.5 H555 M546.5,215 V338.4"/>
<path d="M478,289.5 H528 M519.5,291 V338.4"/>
<path d="M286.5,320 V373.8 M500.5,320 V373.8 M288,368.5 H499"/>
<path d="M304.5,340 V361 M482.5,340 V361 M306,356.5 H481"/>
</g>
<g fill="#111" stroke="none">
<path d="M394,165.6 l6.3,-2.4 v4.8 Z M485.1,165.6 l-6.3,-2.4 v4.8 Z"/>
<path d="M546.5,213.9 l-2.4,6.3 h4.8 Z M546.5,339.7 l-2.4,-6.3 h4.8 Z"/>
<path d="M519.5,289.8 l-2.4,6.3 h4.8 Z M519.5,339.7 l-2.4,-6.3 h4.8 Z"/>
<path d="M286.9,368.5 l6.3,-2.4 v4.8 Z M500.1,368.5 l-6.3,-2.4 v4.8 Z"/>
<path d="M304.9,356.5 l6.3,-2.4 v4.8 Z M482.1,356.5 l-6.3,-2.4 v4.8 Z"/>
</g>
<g fill="#231f20" stroke="#231f20" stroke-width="0.2" font-size="8.1">
<text x="436.6" y="162.6" textLength="4.6" lengthAdjust="spacingAndGlyphs">C</text>
<text x="549" y="278.6" textLength="4" lengthAdjust="spacingAndGlyphs">F</text>
<text x="522" y="318" textLength="4.4" lengthAdjust="spacingAndGlyphs">E</text>
<text x="391.4" y="353.6" textLength="3" lengthAdjust="spacingAndGlyphs">J</text>
<text x="390.6" y="366" textLength="5.4" lengthAdjust="spacingAndGlyphs">H</text>
</g>
</g>

<text x="517.60" y="385.00" font-size="8.1" font-weight="normal" font-style="normal" fill="#231f20" stroke="#231f20" stroke-width="0.2" textLength="46.40" lengthAdjust="spacingAndGlyphs">MDD5-12-001</text>
<text x="133.00" y="417.70" font-size="9.75" font-weight="normal" font-style="normal" fill="#231f20" stroke="#231f20" stroke-width="0.2" textLength="26.60" lengthAdjust="spacingAndGlyphs">Model</text>
<text x="375.00" y="417.70" font-size="9.75" font-weight="normal" font-style="normal" fill="#231f20" stroke="#231f20" stroke-width="0.2" textLength="56.00" lengthAdjust="spacingAndGlyphs">ZX345USLC-6</text>
<text x="53.00" y="432.00" font-size="9.75" font-weight="normal" font-style="normal" fill="#231f20" stroke="#231f20" stroke-width="0.2" textLength="126.60" lengthAdjust="spacingAndGlyphs">Type of Front-End Attachment</text>
<text x="379.00" y="432.00" font-size="9.75" font-weight="normal" font-style="normal" fill="#231f20" stroke="#231f20" stroke-width="0.2" textLength="47.60" lengthAdjust="spacingAndGlyphs">3.11 m Arm</text>
<text x="53.00" y="446.30" font-size="9.75" font-weight="normal" font-style="normal" fill="#231f20" stroke="#231f20" stroke-width="0.2" textLength="108.00" lengthAdjust="spacingAndGlyphs">Bucket Capacity (Heaped)</text>
<text x="345.40" y="446.30" font-size="9.75" font-weight="normal" font-style="normal" fill="#231f20" stroke="#231f20" stroke-width="0.2" textLength="115.20" lengthAdjust="spacingAndGlyphs">PCSA 1.25 m<tspan font-size="5.6" dy="-3.2">3</tspan><tspan dy="3.2">, CECE 1.10 m</tspan><tspan font-size="5.6" dy="-3.2">3</tspan></text>
<text x="53.00" y="460.60" font-size="9.75" font-weight="normal" font-style="normal" fill="#231f20" stroke="#231f20" stroke-width="0.2" textLength="95.60" lengthAdjust="spacingAndGlyphs">Counterweight Weight</text>
<text x="386.60" y="460.60" font-size="9.75" font-weight="normal" font-style="normal" fill="#231f20" stroke="#231f20" stroke-width="0.2" textLength="32.80" lengthAdjust="spacingAndGlyphs">8680 kg</text>
<text x="53.00" y="474.90" font-size="9.75" font-weight="normal" font-style="normal" fill="#231f20" stroke="#231f20" stroke-width="0.2" textLength="74.60" lengthAdjust="spacingAndGlyphs">Operating Weight</text>
<text x="384.00" y="474.90" font-size="9.75" font-weight="normal" font-style="normal" fill="#231f20" stroke="#231f20" stroke-width="0.2" textLength="38.00" lengthAdjust="spacingAndGlyphs">36300 kg</text>
<text x="53.00" y="489.20" font-size="9.75" font-weight="normal" font-style="normal" fill="#231f20" stroke="#231f20" stroke-width="0.2" textLength="89.60" lengthAdjust="spacingAndGlyphs">Base Machine Weight</text>
<text x="384.00" y="489.20" font-size="9.75" font-weight="normal" font-style="normal" fill="#231f20" stroke="#231f20" stroke-width="0.2" textLength="38.00" lengthAdjust="spacingAndGlyphs">21200 kg</text>
<text x="53.00" y="503.50" font-size="9.75" font-weight="normal" font-style="normal" fill="#231f20" stroke="#231f20" stroke-width="0.2" textLength="50.60" lengthAdjust="spacingAndGlyphs">Engine Type</text>
<text x="350.60" y="503.50" font-size="9.75" font-weight="normal" font-style="normal" fill="#231f20" stroke="#231f20" stroke-width="0.2" textLength="104.40" lengthAdjust="spacingAndGlyphs">Isuzu AQ-6HK1XASA-02S</text>
<text x="53.00" y="517.80" font-size="9.75" font-weight="normal" font-style="normal" fill="#231f20" stroke="#231f20" stroke-width="0.2" textLength="57.40" lengthAdjust="spacingAndGlyphs">Engine Power</text>
<text x="299.40" y="517.80" font-size="9.75" font-weight="normal" font-style="normal" fill="#231f20" stroke="#231f20" stroke-width="0.2" textLength="207.00" lengthAdjust="spacingAndGlyphs">ISO 14396: 186 kW/1900 min-1(253 PS/1900 rpm)</text>
<text x="53" y="532.10" font-size="9.75" fill="#231f20" stroke="#231f20" stroke-width="0.2">A</text>
<text x="61.0" y="532.10" font-size="9.75" fill="#231f20" stroke="#231f20" stroke-width="0.2">:</text>
<text x="67.60" y="532.10" font-size="9.75" font-weight="normal" font-style="normal" fill="#231f20" stroke="#231f20" stroke-width="0.2" textLength="161.00" lengthAdjust="spacingAndGlyphs">Overall Width (Excluding back mirrors)</text>
<text x="383.60" y="532.10" font-size="9.75" font-weight="normal" font-style="normal" fill="#231f20" stroke="#231f20" stroke-width="0.2" textLength="38.80" lengthAdjust="spacingAndGlyphs">3190 mm</text>
<text x="53" y="546.40" font-size="9.75" fill="#231f20" stroke="#231f20" stroke-width="0.2">B</text>
<text x="61.0" y="546.40" font-size="9.75" fill="#231f20" stroke="#231f20" stroke-width="0.2">:</text>
<text x="67.60" y="546.40" font-size="9.75" font-weight="normal" font-style="normal" fill="#231f20" stroke="#231f20" stroke-width="0.2" textLength="46.40" lengthAdjust="spacingAndGlyphs">Cab Height</text>
<text x="383.60" y="546.40" font-size="9.75" font-weight="normal" font-style="normal" fill="#231f20" stroke="#231f20" stroke-width="0.2" textLength="38.80" lengthAdjust="spacingAndGlyphs">3230 mm</text>
<text x="53" y="560.70" font-size="9.75" fill="#231f20" stroke="#231f20" stroke-width="0.2">C</text>
<text x="61.0" y="560.70" font-size="9.75" fill="#231f20" stroke="#231f20" stroke-width="0.2">:</text>
<text x="67.60" y="560.70" font-size="9.75" font-weight="normal" font-style="normal" fill="#231f20" stroke="#231f20" stroke-width="0.2" textLength="95.00" lengthAdjust="spacingAndGlyphs">Rear End Swing Radius</text>
<text x="383.60" y="560.70" font-size="9.75" font-weight="normal" font-style="normal" fill="#231f20" stroke="#231f20" stroke-width="0.2" textLength="38.80" lengthAdjust="spacingAndGlyphs">2090 mm</text>
<text x="53" y="575.00" font-size="9.75" fill="#231f20" stroke="#231f20" stroke-width="0.2">D</text>
<text x="61.0" y="575.00" font-size="9.75" fill="#231f20" stroke="#231f20" stroke-width="0.2">:</text>
<text x="67.60" y="575.00" font-size="9.75" font-weight="normal" font-style="normal" fill="#231f20" stroke="#231f20" stroke-width="0.2" textLength="118.40" lengthAdjust="spacingAndGlyphs">Minimum Ground Clearance</text>
<text x="384.00" y="575.00" font-size="9.75" font-weight="normal" font-style="normal" fill="#231f20" stroke="#231f20" stroke-width="0.2" textLength="37.80" lengthAdjust="spacingAndGlyphs">*500 mm</text>
<text x="53" y="589.30" font-size="9.75" fill="#231f20" stroke="#231f20" stroke-width="0.2">E</text>
<text x="61.0" y="589.30" font-size="9.75" fill="#231f20" stroke="#231f20" stroke-width="0.2">:</text>
<text x="67.60" y="589.30" font-size="9.75" font-weight="normal" font-style="normal" fill="#231f20" stroke="#231f20" stroke-width="0.2" textLength="107.00" lengthAdjust="spacingAndGlyphs">Counterweight Clearance</text>
<text x="380.60" y="589.30" font-size="9.75" font-weight="normal" font-style="normal" fill="#231f20" stroke="#231f20" stroke-width="0.2" textLength="44.40" lengthAdjust="spacingAndGlyphs">*1160 mm</text>
<text x="53" y="603.60" font-size="9.75" fill="#231f20" stroke="#231f20" stroke-width="0.2">F</text>
<text x="61.0" y="603.60" font-size="9.75" fill="#231f20" stroke="#231f20" stroke-width="0.2">:</text>
<text x="67.60" y="603.60" font-size="9.75" font-weight="normal" font-style="normal" fill="#231f20" stroke="#231f20" stroke-width="0.2" textLength="86.40" lengthAdjust="spacingAndGlyphs">Engine Cover Height</text>
<text x="380.60" y="603.60" font-size="9.75" font-weight="normal" font-style="normal" fill="#231f20" stroke="#231f20" stroke-width="0.2" textLength="44.40" lengthAdjust="spacingAndGlyphs">*2900 mm</text>
<text x="53" y="617.90" font-size="9.75" fill="#231f20" stroke="#231f20" stroke-width="0.2">F’</text>
<text x="61.0" y="617.90" font-size="9.75" fill="#231f20" stroke="#231f20" stroke-width="0.2">:</text>
<text x="67.60" y="617.90" font-size="9.75" font-weight="normal" font-style="normal" fill="#231f20" stroke="#231f20" stroke-width="0.2" textLength="106.40" lengthAdjust="spacingAndGlyphs">Body top Handrail Height</text>
<text x="383.40" y="617.90" font-size="9.75" font-weight="normal" font-style="normal" fill="#231f20" stroke="#231f20" stroke-width="0.2" textLength="39.00" lengthAdjust="spacingAndGlyphs">3590 mm</text>
<text x="53" y="632.20" font-size="9.75" fill="#231f20" stroke="#231f20" stroke-width="0.2">G</text>
<text x="61.0" y="632.20" font-size="9.75" fill="#231f20" stroke="#231f20" stroke-width="0.2">:</text>
<text x="67.60" y="632.20" font-size="9.75" font-weight="normal" font-style="normal" fill="#231f20" stroke="#231f20" stroke-width="0.2" textLength="134.00" lengthAdjust="spacingAndGlyphs">Overall Width of Upperstructure</text>
<text x="383.40" y="632.20" font-size="9.75" font-weight="normal" font-style="normal" fill="#231f20" stroke="#231f20" stroke-width="0.2" textLength="39.00" lengthAdjust="spacingAndGlyphs">3050 mm</text>
<text x="53" y="646.50" font-size="9.75" fill="#231f20" stroke="#231f20" stroke-width="0.2">H</text>
<text x="61.0" y="646.50" font-size="9.75" fill="#231f20" stroke="#231f20" stroke-width="0.2">:</text>
<text x="67.60" y="646.50" font-size="9.75" font-weight="normal" font-style="normal" fill="#231f20" stroke="#231f20" stroke-width="0.2" textLength="92.00" lengthAdjust="spacingAndGlyphs">Undercarriage Length</text>
<text x="383.40" y="646.50" font-size="9.75" font-weight="normal" font-style="normal" fill="#231f20" stroke="#231f20" stroke-width="0.2" textLength="39.00" lengthAdjust="spacingAndGlyphs">4940 mm</text>
<text x="53" y="660.80" font-size="9.75" fill="#231f20" stroke="#231f20" stroke-width="0.2">I</text>
<text x="57.0" y="660.80" font-size="9.75" fill="#231f20" stroke="#231f20" stroke-width="0.2">:</text>
<text x="67.60" y="660.80" font-size="9.75" font-weight="normal" font-style="normal" fill="#231f20" stroke="#231f20" stroke-width="0.2" textLength="86.80" lengthAdjust="spacingAndGlyphs">Undercarriage Width</text>
<text x="383.40" y="660.80" font-size="9.75" font-weight="normal" font-style="normal" fill="#231f20" stroke="#231f20" stroke-width="0.2" textLength="39.00" lengthAdjust="spacingAndGlyphs">3190 mm</text>
<text x="53" y="675.10" font-size="9.75" fill="#231f20" stroke="#231f20" stroke-width="0.2">J</text>
<text x="60.199999999999996" y="675.10" font-size="9.75" fill="#231f20" stroke="#231f20" stroke-width="0.2">:</text>
<text x="67.60" y="675.10" font-size="9.75" font-weight="normal" font-style="normal" fill="#231f20" stroke="#231f20" stroke-width="0.2" textLength="129.40" lengthAdjust="spacingAndGlyphs">Sprocket Center to Idler Center</text>
<text x="383.40" y="675.10" font-size="9.75" font-weight="normal" font-style="normal" fill="#231f20" stroke="#231f20" stroke-width="0.2" textLength="39.00" lengthAdjust="spacingAndGlyphs">4050 mm</text>
<text x="53" y="689.40" font-size="9.75" fill="#231f20" stroke="#231f20" stroke-width="0.2">K</text>
<text x="61.0" y="689.40" font-size="9.75" fill="#231f20" stroke="#231f20" stroke-width="0.2">:</text>
<text x="67.60" y="689.40" font-size="9.75" font-weight="normal" font-style="normal" fill="#231f20" stroke="#231f20" stroke-width="0.2" textLength="71.80" lengthAdjust="spacingAndGlyphs">Track Shoe Width</text>
<text x="353.60" y="689.40" font-size="9.75" font-weight="normal" font-style="normal" fill="#231f20" stroke="#231f20" stroke-width="0.2" textLength="98.00" lengthAdjust="spacingAndGlyphs">600 mm (Grouser shoe)</text>
<text x="53.00" y="703.70" font-size="9.75" font-weight="normal" font-style="normal" fill="#231f20" stroke="#231f20" stroke-width="0.2" textLength="69.40" lengthAdjust="spacingAndGlyphs">Ground Pressure</text>
<text x="358.60" y="703.70" font-size="9.75" font-weight="normal" font-style="normal" fill="#231f20" stroke="#231f20" stroke-width="0.2" textLength="88.40" lengthAdjust="spacingAndGlyphs">66 kPa (0.67 kgf/cm<tspan font-size="5.6" dy="-3.2">2</tspan><tspan dy="3.2">)</tspan></text>
<text x="53.00" y="718.00" font-size="9.75" font-weight="normal" font-style="normal" fill="#231f20" stroke="#231f20" stroke-width="0.2" textLength="54.40" lengthAdjust="spacingAndGlyphs">Swing Speed</text>
<text x="370.00" y="718.00" font-size="9.75" font-weight="normal" font-style="normal" fill="#231f20" stroke="#231f20" stroke-width="0.2" textLength="66.60" lengthAdjust="spacingAndGlyphs">10.5 min<tspan font-size="5.6" dy="-3.2">-1</tspan><tspan dy="3.2"> (rpm)</tspan></text>
<text x="53.00" y="732.30" font-size="9.75" font-weight="normal" font-style="normal" fill="#231f20" stroke="#231f20" stroke-width="0.2" textLength="99.00" lengthAdjust="spacingAndGlyphs">Travel Speed (fast/slow)</text>
<text x="376.60" y="732.30" font-size="9.75" font-weight="normal" font-style="normal" fill="#231f20" stroke="#231f20" stroke-width="0.2" textLength="52.00" lengthAdjust="spacingAndGlyphs">4.1/2.6 km/h</text>
<text x="53.00" y="746.60" font-size="9.75" font-weight="normal" font-style="normal" fill="#231f20" stroke="#231f20" stroke-width="0.2" textLength="50.60" lengthAdjust="spacingAndGlyphs">Gradeability</text>
<text x="367.40" y="746.60" font-size="9.75" font-weight="normal" font-style="normal" fill="#231f20" stroke="#231f20" stroke-width="0.2" textLength="70.60" lengthAdjust="spacingAndGlyphs">35 ° (tan<tspan font-style="italic">θ</tspan> = 0.70)</text>
<line x1="50" y1="406.5" x2="565" y2="406.5" stroke="#1a1a1a" stroke-width="1.0"/>
<line x1="51" y1="420.5" x2="565" y2="420.5" stroke="#1a1a1a" stroke-width="1.0"/>
<line x1="51" y1="435.5" x2="565" y2="435.5" stroke="#1a1a1a" stroke-width="1.0"/>
<line x1="51" y1="449.5" x2="565" y2="449.5" stroke="#1a1a1a" stroke-width="1.0"/>
<line x1="51" y1="463.5" x2="565" y2="463.5" stroke="#1a1a1a" stroke-width="1.0"/>
<line x1="51" y1="478.5" x2="565" y2="478.5" stroke="#1a1a1a" stroke-width="1.0"/>
<line x1="51" y1="492.5" x2="565" y2="492.5" stroke="#1a1a1a" stroke-width="1.0"/>
<line x1="51" y1="506.5" x2="565" y2="506.5" stroke="#1a1a1a" stroke-width="1.0"/>
<line x1="50" y1="521.5" x2="565" y2="521.5" stroke="#1a1a1a" stroke-width="1.0"/>
<line x1="51" y1="535.5" x2="565" y2="535.5" stroke="#1a1a1a" stroke-width="1.0"/>
<line x1="51" y1="549.5" x2="565" y2="549.5" stroke="#1a1a1a" stroke-width="1.0"/>
<line x1="51" y1="563.5" x2="565" y2="563.5" stroke="#1a1a1a" stroke-width="1.0"/>
<line x1="51" y1="578.5" x2="565" y2="578.5" stroke="#1a1a1a" stroke-width="1.0"/>
<line x1="51" y1="592.5" x2="565" y2="592.5" stroke="#1a1a1a" stroke-width="1.0"/>
<line x1="51" y1="606.5" x2="565" y2="606.5" stroke="#1a1a1a" stroke-width="1.0"/>
<line x1="51" y1="621.5" x2="565" y2="621.5" stroke="#1a1a1a" stroke-width="1.0"/>
<line x1="51" y1="635.5" x2="565" y2="635.5" stroke="#1a1a1a" stroke-width="1.0"/>
<line x1="51" y1="649.5" x2="565" y2="649.5" stroke="#1a1a1a" stroke-width="1.0"/>
<line x1="51" y1="664.5" x2="565" y2="664.5" stroke="#1a1a1a" stroke-width="1.0"/>
<line x1="51" y1="678.5" x2="565" y2="678.5" stroke="#1a1a1a" stroke-width="1.0"/>
<line x1="50" y1="692.5" x2="565" y2="692.5" stroke="#1a1a1a" stroke-width="1.0"/>
<line x1="51" y1="706.5" x2="565" y2="706.5" stroke="#1a1a1a" stroke-width="1.0"/>
<line x1="51" y1="721.5" x2="565" y2="721.5" stroke="#1a1a1a" stroke-width="1.0"/>
<line x1="50" y1="735.5" x2="565" y2="735.5" stroke="#1a1a1a" stroke-width="1.0"/>
<line x1="51" y1="749.5" x2="565" y2="749.5" stroke="#1a1a1a" stroke-width="1.0"/>
<line x1="241.5" y1="406" x2="241.5" y2="750" stroke="#1a1a1a" stroke-width="1.0"/>
<g fill="none" stroke="#231f20" stroke-width="1.15" stroke-linejoin="round" stroke-linecap="round">
<path d="M51.3,770.4 L52.5,764.4 L57.2,757.2 Q58.6,755.4 60.8,756.2 Q63.6,757.6 62.6,760 L57.6,767.6 Z"/>
<path d="M52.5,764.4 Q54,763.8 54.8,765 Q55.6,766.6 57.6,767.6" stroke-width="0.9"/>
<path d="M54.6,764.8 L59.4,757.6 M56.2,766.4 L61.2,759" stroke-width="0.9"/>
<path d="M58.6,757.4 Q60.8,757.4 61.8,759.6" stroke-width="0.9"/>
<path d="M51.3,770.4 L52.6,769.4 L51.6,768.6 Z" fill="#231f20" stroke-width="0.8"/>
</g>
<text x="66.00" y="768.60" font-size="9.4" font-weight="normal" font-style="italic" fill="#231f20" stroke="#231f20" stroke-width="0.2" textLength="24.40" lengthAdjust="spacingAndGlyphs">NOTE:</text>
<text x="100.40" y="768.60" font-size="9.4" font-weight="normal" font-style="italic" fill="#231f20" stroke="#231f20" stroke-width="0.2" textLength="234.60" lengthAdjust="spacingAndGlyphs">* The dimensions do not include the height of the shoe lug.</text>
<line x1="50" y1="802.5" x2="565" y2="802.5" stroke="#1a1a1a" stroke-width="1.0"/>
<text x="291.60" y="820.00" font-size="12.4" font-weight="normal" font-style="normal" fill="#231f20" stroke="#231f20" stroke-width="0.2" textLength="30.40" lengthAdjust="spacingAndGlyphs">T1-1-1</text>
</svg>
</body></html>
